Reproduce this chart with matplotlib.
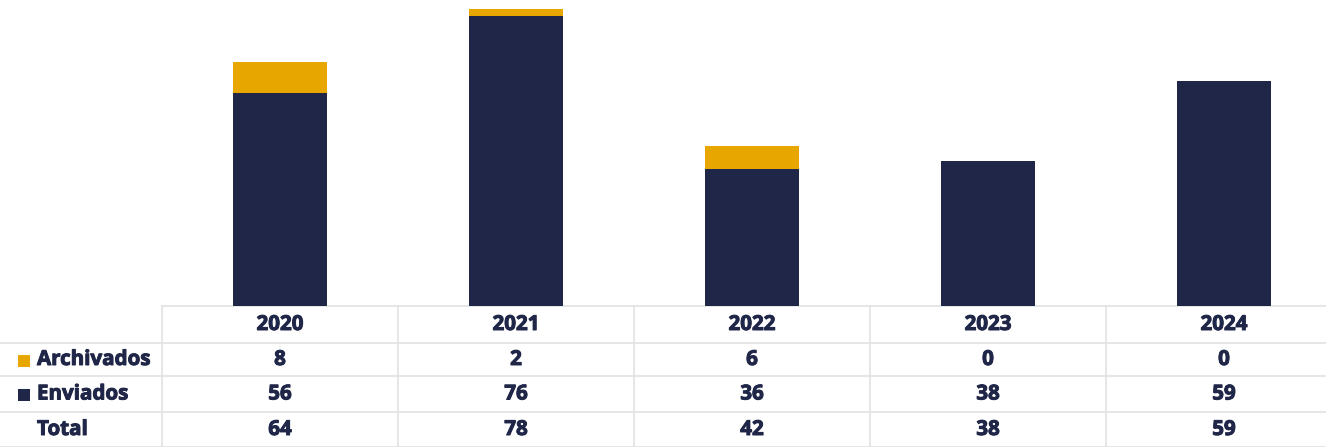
import matplotlib.pyplot as plt
import matplotlib.patheffects as pe
from matplotlib.patches import Rectangle

years = ["2020", "2021", "2022", "2023", "2024"]
archivados = [8, 2, 6, 0, 0]
enviados = [56, 76, 36, 38, 59]
totals = [a + e for a, e in zip(archivados, enviados)]

NAVY = "#1f2647"
GOLD = "#e8a600"
GRID = "#e2e2e2"

plt.rcParams["font.family"] = ["Open Sans", "DejaVu Sans"]

W, H = 1326, 447
fig = plt.figure(figsize=(W / 100, H / 100), dpi=100)

col_w = 236.0          # pixel width of one year column
x0 = 162.0             # left edge of first year column
top = 306.0            # y (from top) where bars sit / table starts
row_lines = [306, 343, 376, 412, 447]

# bar axes
ax = fig.add_axes([x0 / W, (H - top) / H, (W - x0) / W, top / H])
xs = list(range(len(years)))
ax.bar(xs, enviados, width=0.4, color=NAVY)
ax.bar(xs, archivados, width=0.4, bottom=enviados, color=GOLD)
ax.set_xlim(-0.5, -0.5 + (W - x0) / col_w)
ax.set_ylim(0, 80.3)
ax.axis("off")

# table axes: whole figure, y in pixels from top
tax = fig.add_axes([0, 0, 1, 1], zorder=-1)
xl = -0.5 - x0 / col_w
tax.set_xlim(xl, -0.5 + (W - x0) / col_w)
tax.set_ylim(H, 0)
tax.axis("off")

for i, y in enumerate(row_lines):
    start = -0.5 if i == 0 else xl
    tax.plot([start, 10], [y, y], color=GRID, lw=1.2)
for k in range(len(years) + 1):
    tax.plot([k - 0.5, k - 0.5], [top, H], color=GRID, lw=1.2)

centers = [(row_lines[i] + row_lines[i + 1]) / 2 for i in range(4)]
fs = 14.8
stroke = [pe.withStroke(linewidth=0.7, foreground=NAVY)]
kw = dict(va="center", fontsize=fs, fontweight="bold", color=NAVY,
          path_effects=stroke)
for i, yr in enumerate(years):
    tax.text(i, centers[0], yr, ha="center", **kw)
    tax.text(i, centers[1], str(archivados[i]), ha="center", **kw)
    tax.text(i, centers[2], str(enviados[i]), ha="center", **kw)
    tax.text(i, centers[3], str(totals[i]), ha="center", **kw)

lx = xl + 37 / col_w
labels = ["Archivados", "Enviados", "Total"]
for j, lab in enumerate(labels):
    tax.text(lx, centers[j + 1], lab, ha="left", **kw)

sq = 12 / col_w
for j, c in enumerate([GOLD, NAVY]):
    tax.add_patch(Rectangle((xl + 18 / col_w, centers[j + 1] - 5), sq, 12,
                            color=c, lw=0))

fig.savefig("out.png", dpi=100, facecolor="white")
